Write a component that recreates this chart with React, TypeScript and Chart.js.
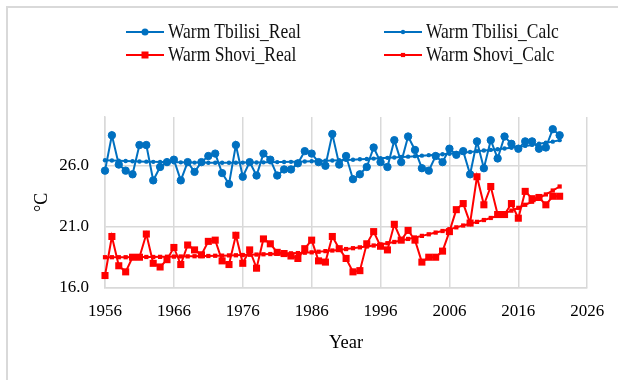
import { useEffect, useRef } from "react";
import { Chart, registerables } from "chart.js";

Chart.register(...registerables);

const years = [
  1956, 1957, 1958, 1959, 1960, 1961, 1962, 1963, 1964, 1965,
  1966, 1967, 1968, 1969, 1970, 1971, 1972, 1973, 1974, 1975,
  1976, 1977, 1978, 1979, 1980, 1981, 1982, 1983, 1984, 1985,
  1986, 1987, 1988, 1989, 1990, 1991, 1992, 1993, 1994, 1995,
  1996, 1997, 1998, 1999, 2000, 2001, 2002, 2003, 2004, 2005,
  2006, 2007, 2008, 2009, 2010, 2011, 2012, 2013, 2014, 2015,
  2016, 2017, 2018, 2019, 2020, 2021, 2022,
];

const tbilisiReal = [
  25.6, 28.5, 26.1, 25.6, 25.3, 27.7, 27.7, 24.8, 25.9, 26.3,
  26.5, 24.8, 26.3, 25.5, 26.3, 26.8, 27.0, 25.4, 24.5, 27.7,
  25.1, 26.3, 25.2, 27.0, 26.5, 25.2, 25.7, 25.7, 26.2, 27.2,
  27.0, 26.3, 26.0, 28.6, 26.1, 26.8, 24.9, 25.3, 25.9, 27.5,
  26.3, 25.9, 28.1, 26.3, 28.4, 27.3, 25.8, 25.6, 26.8, 26.3,
  27.4, 26.9, 27.2, 25.3, 28.0, 25.8, 28.1, 26.6, 28.4, 27.8,
  27.4, 28.0, 28.0, 27.4, 27.5, 29.0, 28.5,
];

const tbilisiCalc = [
  26.45, 26.43, 26.41, 26.39, 26.37, 26.35, 26.34, 26.32, 26.31, 26.3,
  26.29, 26.28, 26.27, 26.26, 26.26, 26.25, 26.25, 26.25, 26.25, 26.25,
  26.26, 26.26, 26.27, 26.28, 26.29, 26.3, 26.31, 26.32, 26.34, 26.35,
  26.37, 26.39, 26.41, 26.43, 26.45, 26.48, 26.5, 26.53, 26.56, 26.59,
  26.62, 26.65, 26.68, 26.72, 26.75, 26.79, 26.83, 26.87, 26.91, 26.95,
  26.99, 27.04, 27.08, 27.13, 27.2, 27.25, 27.3, 27.36, 27.42, 27.48,
  27.55, 27.63, 27.71, 27.8, 27.89, 27.98, 28.1,
];

const shoviReal = [
  17.0, 20.2, 17.8, 17.3, 18.5, 18.5, 20.4, 18.0, 17.7, 18.3,
  19.3, 17.9, 19.5, 19.1, 18.7, 19.8, 19.9, 18.2, 17.9, 20.3,
  18.0, 19.1, 17.6, 20.0, 19.6, 18.9, 18.8, 18.6, 18.4, 19.2,
  19.9, 18.2, 18.1, 20.2, 19.2, 18.4, 17.3, 17.4, 19.6, 20.6,
  19.4, 19.1, 21.2, 19.9, 20.7, 19.9, 18.1, 18.5, 18.5, 19.0,
  20.6, 22.4, 22.9, 21.3, 25.1, 22.8, 24.3, 22.0, 22.0, 22.9,
  21.7, 23.9, 23.3, 23.4, 22.8, 23.5, 23.5,
];

const shoviCalc = [
  18.5, 18.5, 18.5, 18.5, 18.51, 18.51, 18.52, 18.52, 18.53, 18.54,
  18.55, 18.56, 18.57, 18.58, 18.59, 18.6, 18.62, 18.63, 18.65, 18.66,
  18.68, 18.7, 18.72, 18.74, 18.76, 18.78, 18.8, 18.82, 18.84, 18.87,
  18.9, 18.95, 19.0, 19.05, 19.1, 19.17, 19.24, 19.31, 19.38, 19.46,
  19.55, 19.65, 19.75, 19.87, 20.0, 20.12, 20.25, 20.38, 20.52, 20.65,
  20.8, 20.95, 21.1, 21.25, 21.4, 21.55, 21.72, 21.9, 22.1, 22.32,
  22.55, 22.8, 23.05, 23.35, 23.65, 23.97, 24.3,
];

const xTicks = [1956, 1966, 1976, 1986, 1996, 2006, 2016, 2026];
const yTicks = [16, 21, 26];

const seriesNames = [
  "Warm Tbilisi_Real",
  "Warm Tbilisi_Calc",
  "Warm Shovi_Real",
  "Warm Shovi_Calc",
];

const BLUE = "#0070C0";
const RED = "#FF0000";
const GRID = "#d9d9d9";
const FONT = "'Liberation Serif', 'Times New Roman', serif";

export default function App() {
  const ref = useRef<HTMLCanvasElement>(null);

  useEffect(() => {
    document.body.style.margin = "0";
    const pts = (vals: number[]) => years.map((x, i) => ({ x, y: vals[i] }));
    const chart = new Chart(ref.current as HTMLCanvasElement, {
      type: "line",
      data: {
        datasets: [
          {
            label: seriesNames[0],
            data: pts(tbilisiReal),
            borderColor: BLUE,
            backgroundColor: BLUE,
            borderWidth: 2,
            pointStyle: "circle",
            pointRadius: 3.7,
            pointBorderWidth: 1,
            pointBackgroundColor: BLUE,
            pointBorderColor: BLUE,
            tension: 0,
            clip: false as any,
            order: 4,
          },
          {
            label: seriesNames[1],
            data: pts(tbilisiCalc),
            borderColor: BLUE,
            backgroundColor: BLUE,
            borderWidth: 2,
            pointStyle: "circle",
            pointRadius: 2.2,
            pointBorderWidth: 0,
            pointBackgroundColor: BLUE,
            tension: 0,
            clip: false as any,
            order: 3,
          },
          {
            label: seriesNames[2],
            data: pts(shoviReal),
            borderColor: RED,
            backgroundColor: RED,
            borderWidth: 2,
            pointStyle: "rect",
            pointRadius: 5,
            pointBorderWidth: 0,
            pointBackgroundColor: RED,
            tension: 0,
            clip: false as any,
            order: 2,
          },
          {
            label: seriesNames[3],
            data: pts(shoviCalc),
            borderColor: RED,
            backgroundColor: RED,
            borderWidth: 2,
            pointStyle: "rect",
            pointRadius: 3,
            pointBorderWidth: 0,
            pointBackgroundColor: RED,
            tension: 0,
            clip: false as any,
            order: 1,
          },
        ],
      },
      options: {
        responsive: false,
        animation: false,
        layout: { padding: { top: 117, right: 29, bottom: 0, left: 0 } },
        plugins: { legend: { display: false }, tooltip: { enabled: false } },
        scales: {
          x: {
            type: "linear",
            min: 1956,
            max: 2026,
            afterBuildTicks: (s: any) => {
              s.ticks = xTicks.map((v) => ({ value: v }));
            },
            afterFit: (s: any) => {
              s.height = 92.3;
            },
            grid: { color: GRID, lineWidth: 1.5, drawTicks: false },
            border: { display: true, color: GRID, width: 1.5 },
            ticks: {
              padding: 13.8,
              color: "#000",
              font: { family: FONT, size: 17 },
              callback: (v: any) => String(v),
              maxRotation: 0,
            },
            title: {
              display: true,
              text: "Year",
              color: "#000",
              font: { family: FONT, size: 18.5 },
              padding: { top: 0, bottom: 25.9 },
            },
          },
          y: {
            type: "linear",
            min: 16,
            max: 30,
            afterBuildTicks: (s: any) => {
              s.ticks = yTicks.map((v) => ({ value: v }));
            },
            afterFit: (s: any) => {
              s.width = 105;
            },
            grid: { color: GRID, lineWidth: 1.5, drawTicks: false },
            border: { display: true, color: GRID, width: 1.5 },
            ticks: {
              padding: 16,
              color: "#000",
              font: { family: FONT, size: 17 },
              callback: (v: any) => Number(v).toFixed(1),
            },
            title: {
              display: true,
              text: "°C",
              color: "#000",
              font: { family: FONT, size: 18 },
              padding: { top: 31.2, bottom: 0 },
            },
          },
        },
      },
    });
    return () => chart.destroy();
  }, []);

  const legendItems = [
    { name: seriesNames[0], color: BLUE, shape: "circle", big: true, x: 126, y: 32 },
    { name: seriesNames[1], color: BLUE, shape: "circle", big: false, x: 384, y: 32 },
    { name: seriesNames[2], color: RED, shape: "rect", big: true, x: 126, y: 55 },
    { name: seriesNames[3], color: RED, shape: "rect", big: false, x: 384, y: 55 },
  ];

  return (
    <div style={{ position: "relative", width: 618, height: 380, overflow: "hidden", background: "#fff" }}>
      <div
        style={{
          position: "absolute",
          left: 6,
          top: 6,
          width: 700,
          height: 500,
          borderLeft: `2px solid ${GRID}`,
          borderTop: `2px solid ${GRID}`,
        }}
      />
      <canvas ref={ref} width={618} height={380} style={{ position: "absolute", left: 0, top: 0 }} />
      <svg width={618} height={80} style={{ position: "absolute", left: 0, top: 0 }}>
        {legendItems.map((it) => {
          const cx = it.x + 19;
          const s = it.big ? 7 : 4.2;
          return (
            <g key={it.name}>
              <line x1={it.x} y1={it.y} x2={it.x + 38} y2={it.y} stroke={it.color} strokeWidth={2} />
              {it.shape === "circle" ? (
                <circle cx={cx} cy={it.y} r={it.big ? 3.5 : 2.2} fill={it.color} />
              ) : (
                <rect x={cx - s / 2} y={it.y - s / 2} width={s} height={s} fill={it.color} />
              )}
              <text
                transform={`translate(${it.x + 42},${it.y + 5.7}) scale(1,1.18)`}
                fontFamily={FONT}
                fontSize={17.5}
                fill="#111"
              >
                {it.name}
              </text>
            </g>
          );
        })}
      </svg>
    </div>
  );
}
